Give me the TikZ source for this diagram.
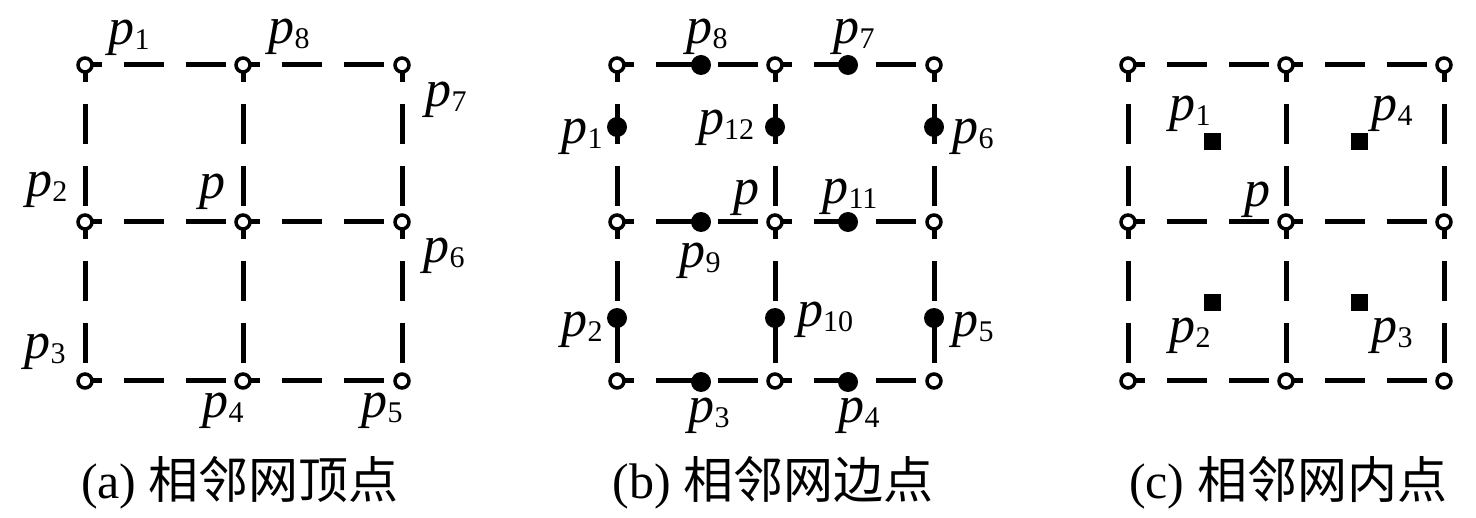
\documentclass[tikz,border=0pt]{standalone}
\usepackage{fontspec}
\setmainfont{Liberation Serif}
\newfontfamily\cjk{Noto Sans CJK SC}
\pgfdeclarelayer{bg}
\pgfsetlayers{bg,main}
\newcommand\plab[1]{\textit{p}\raisebox{-5pt}{\fontsize{30}{30}\selectfont #1}}
\begin{document}
\begin{tikzpicture}[x=1pt,y=-1pt,
  vtx/.style={circle,draw,line width=3.5pt,fill=white,minimum size=14pt,inner sep=0pt},
  bdot/.style={circle,fill=black,minimum size=20pt,inner sep=0pt},
  sqdot/.style={rectangle,fill=black,minimum size=17pt,inner sep=0pt},
  gridline/.style={line width=5pt,dash pattern=on 40pt off 22pt,dash phase=23pt},
  lbl/.style={inner sep=0pt,font=\fontsize{52}{54}\selectfont},
  captext/.style={inner sep=0pt,font=\fontsize{50}{55}\selectfont}]
\useasboundingbox (0,0) rectangle (1476,518);
% vertices
\foreach \P/\xa/\xb/\xc in {a/85/243/402, b/617/775/934, c/1128/1286/1444}{
  \foreach \i/\x in {1/\xa,2/\xb,3/\xc}{
    \foreach \j/\y in {1/65,2/222,3/381}{
      \node[vtx] (\P-\i-\j) at (\x,\y) {};
    }
  }
}
% grid lines
\begin{pgfonlayer}{bg}
\foreach \P in {a,b,c}{
  \foreach \r in {1,2,3}{
    \draw[gridline] (\P-1-\r.center) -- (\P-2-\r.center);
    \draw[gridline] (\P-2-\r.center) -- (\P-3-\r.center);
    \draw[gridline] (\P-\r-1.center) -- (\P-\r-2.center);
    \draw[gridline] (\P-\r-2.center) -- (\P-\r-3.center);
  }
}
\end{pgfonlayer}
% (a) labels
\node[lbl] (la1) at (129,38) {\plab{1}};
\node[lbl] (la8) at (289,37) {\plab{8}};
\node[lbl] (la7) at (446,100) {\plab{7}};
\node[lbl] (la2) at (47,190) {\plab{2}};
\node[lbl] (lap) at (212,192) {\textit{p}};
\node[lbl] (la6) at (444,256) {\plab{6}};
\node[lbl] (la3) at (45,352) {\plab{3}};
\node[lbl] (la4) at (223,411) {\plab{4}};
\node[lbl] (la5) at (382,411) {\plab{5}};
% (b) edge points
\node[bdot] (b8) at (701,65) {};
\node[bdot] (b7) at (848,65) {};
\node[bdot] (b1) at (617,127) {};
\node[bdot] (b12) at (775,127) {};
\node[bdot] (b6) at (934,127) {};
\node[bdot] (b9) at (701,222) {};
\node[bdot] (b11) at (848,222) {};
\node[bdot] (b2) at (617,318) {};
\node[bdot] (b10) at (775,318) {};
\node[bdot] (b5) at (934,318) {};
\node[bdot] (b3) at (701,382) {};
\node[bdot] (b4) at (848,382) {};
\node[lbl] (lb8) at (707,37) {\plab{8}};
\node[lbl] (lb7) at (854,37) {\plab{7}};
\node[lbl] (lb1) at (582,137) {\plab{1}};
\node[lbl] (lb12) at (726,128) {\plab{12}};
\node[lbl] (lb6) at (973,137) {\plab{6}};
\node[lbl] (lbp) at (746,198) {\textit{p}};
\node[lbl] (lb11) at (850,197) {\plab{11}};
\node[lbl] (lb9) at (700,261) {\plab{9}};
\node[lbl] (lb2) at (582,330) {\plab{2}};
\node[lbl] (lb10) at (825,320) {\plab{10}};
\node[lbl] (lb5) at (973,330) {\plab{5}};
\node[lbl] (lb3) at (709,416) {\plab{3}};
\node[lbl] (lb4) at (859,416) {\plab{4}};
% (c) interior points
\node[sqdot] (c1) at (1212,142) {};
\node[sqdot] (c4) at (1359,142) {};
\node[sqdot] (c2) at (1212,303) {};
\node[sqdot] (c3) at (1359,303) {};
\node[lbl] (lc1) at (1190,114) {\plab{1}};
\node[lbl] (lc4) at (1392,114) {\plab{4}};
\node[lbl] (lcp) at (1257,200) {\textit{p}};
\node[lbl] (lc2) at (1190,336) {\plab{2}};
\node[lbl] (lc3) at (1392,336) {\plab{3}};
% captions
\node[captext] (capa) at (240,483) {(a) {\cjk 相邻网顶点}};
\node[captext] (capb) at (773,483) {(b) {\cjk 相邻网边点}};
\node[captext] (capc) at (1288,483) {(c) {\cjk 相邻网内点}};
\end{tikzpicture}
\end{document}
